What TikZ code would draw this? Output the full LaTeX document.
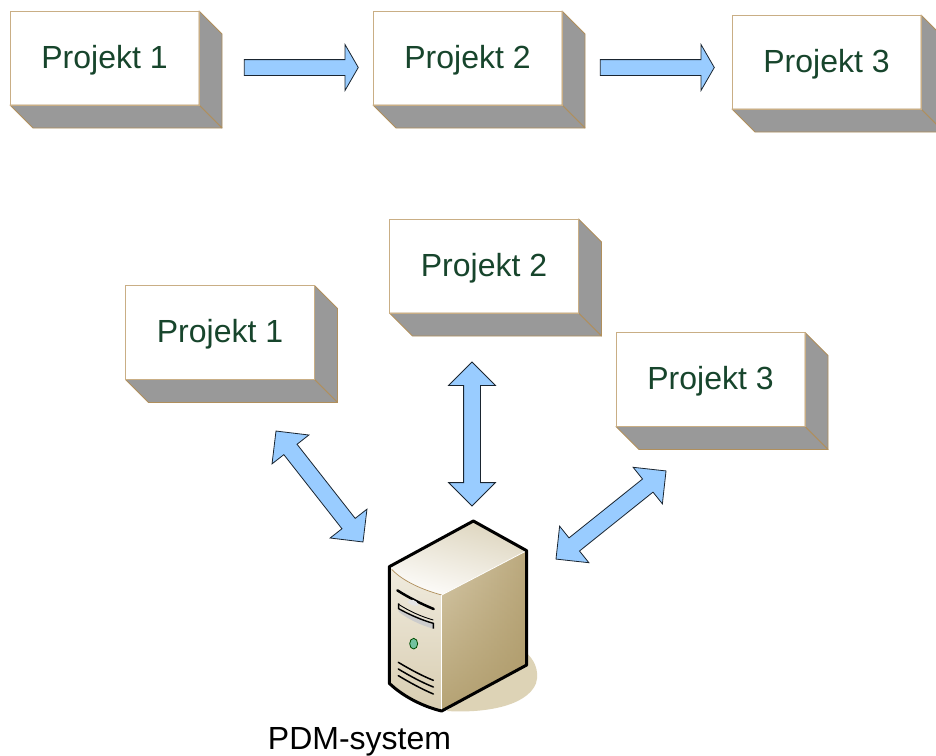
\documentclass[tikz,border=0pt]{standalone}
\usepackage{fontspec}
\setmainfont{Liberation Sans}
\usetikzlibrary{shapes.arrows,calc,fadings}
\definecolor{boxedge}{HTML}{C9AE85}
\definecolor{sideedge}{HTML}{B08F5C}
\definecolor{sidegray}{HTML}{999999}
\definecolor{projtext}{HTML}{17452C}
\definecolor{arrowblue}{HTML}{99CCFF}
\definecolor{arrowedge}{HTML}{1A2530}
\definecolor{shadowtan}{HTML}{DDD3B6}
\definecolor{topback}{HTML}{DDD5BE}
\definecolor{topfront}{HTML}{FDFCFA}
\definecolor{rightL}{HTML}{D6C9A9}
\definecolor{rightM}{HTML}{EFEADF}
\definecolor{rightR}{HTML}{BBA97E}
\definecolor{rightDark}{HTML}{A8935F}
\definecolor{frontT}{HTML}{F0EBDE}
\definecolor{frontB}{HTML}{D8CDB1}
\definecolor{ledgreen}{HTML}{72C2A0}
\definecolor{curveedge}{HTML}{B08F5C}
\tikzfading[name=fadeup, bottom color=transparent!0, middle color=transparent!85, top color=transparent!100]
\tikzset{
  projbox/.style={draw=boxedge, fill=white, line width=1pt, minimum width=189pt, minimum height=94pt,
    inner sep=0pt, outer sep=0pt, text=projtext, text height=24pt, text depth=4pt, font=\fontsize{32}{36}\selectfont},
  sideface/.style={fill=sidegray, draw=sideedge, line width=.8pt, line join=round},
  rarrow/.style={single arrow, draw=arrowedge, fill=arrowblue, line width=.8pt, inner xsep=0pt, inner ysep=7.5pt, outer sep=0pt,
    minimum width=45pt, minimum height=114pt, single arrow head extend=15pt, single arrow tip angle=120,
    anchor=center},
  darrow/.style={double arrow, draw=arrowedge, fill=arrowblue, line width=.8pt, inner xsep=0pt, inner ysep=8pt, outer sep=0pt,
    minimum width=46pt, double arrow head extend=15pt, double arrow tip angle=90, anchor=center},
  srvline/.style={draw=black, line width=1.5pt, line cap=round},
}
\newcommand{\projnode}[4]{%
  \node[projbox] (#1) at (#2,#3) {#4};
  \path[sideface] (#1.north east) -- ++(23,23) -- ++(0,94) -- (#1.south east) -- cycle;
  \path[sideface] (#1.south west) -- ++(23,23) -- ++(189,0) -- (#1.south east) -- cycle;
  \draw[boxedge, line width=1pt] (#1.south west) rectangle (#1.north east);
}
\begin{document}
\begin{tikzpicture}[x=1pt,y=-1pt]
\useasboundingbox (0,0) rectangle (936,755);
\fill[white] (0,0) rectangle (936,755);

\projnode{a1}{104.5}{58}{Projekt 1}
\projnode{a2}{467.5}{58}{Projekt 2}
\projnode{a3}{826.5}{62}{Projekt 3}
\projnode{b1}{220}{332.5}{Projekt 1}
\projnode{b2}{484}{266}{Projekt 2}
\projnode{b3}{710.5}{379.5}{Projekt 3}

\node[rarrow] (r1) at (299,67.5) {};
\node[rarrow] (r2) at (655,67.5) {};
\node[darrow, minimum height=144pt, rotate=90] (d2) at (472,434) {};
\node[darrow, minimum height=141pt, rotate=-51.9] (d1) at (319.5,486.5) {};
\node[darrow, minimum height=141pt, rotate=38.7] (d3) at (611,515) {};

% server, drawn in the coordinates of a 3x enlargement
\begin{scope}[shift={(370,510)},xscale=1/3,yscale=1/3]
  \fill[shadowtan] (230,603) .. controls (340,610) and (470,590) .. (498,520)
     .. controls (510,480) and (490,445) .. (465,425) -- cycle;
  % top face
  \shade[top color=topback,bottom color=topfront,shading angle=-15]
     (58,170) -- (310,33) -- (470,122) -- (215,255) .. controls (160,240) and (100,215) .. (58,170) -- cycle;
  % front face
  \shade[top color=frontT,bottom color=frontB]
     (58,170) .. controls (100,215) and (160,240) .. (215,255) -- (215,603) .. controls (160,590) and (100,560) .. (58,520) -- cycle;
  % right face
  \shade[left color=rightL,middle color=rightM,right color=rightR]
     (215,255) -- (470,122) -- (470,465) -- (215,603) -- cycle;
  \fill[rightDark,opacity=.7,path fading=fadeup]
     (215,255) -- (470,122) -- (470,465) -- (215,603) -- cycle;
  \draw[white,line width=.8pt] (215,255) -- (470,122);
  \draw[curveedge,line width=.7pt] (65,178) .. controls (100,215) and (160,240) .. (215,255);
  \draw[white,line width=.5pt] (215,255) -- (215,600);
  % drive bay
  \draw[black,line width=2.5pt,line cap=round] (82,241) .. controls (115,262) and (150,280) .. (191,297);
  \fill[white!90!black] (112,276) .. controls (120,264) and (140,268) .. (146,286) .. controls (135,290) and (120,284) .. (112,276) -- cycle;
  \fill[white!80!black] (86,296) -- (190,340) -- (190,356) .. controls (150,345) and (110,325) .. (86,305) -- cycle;
  \draw[black,line width=1.4pt] (86,280) -- (86,296) .. controls (120,315) and (155,330) .. (190,340) -- (190,356);
  \draw[black,line width=.9pt] (86,283) .. controls (120,305) and (155,320) .. (190,330);
  % led
  \draw[black!70!green,fill=ledgreen,line width=.8pt] (131,401) ellipse [x radius=12,y radius=16];
  % vents
  \draw[srvline] (85,457) .. controls (120,478) and (155,497) .. (190,511);
  \draw[srvline] (85,477) .. controls (120,498) and (155,517) .. (190,531);
  \draw[srvline] (85,497) .. controls (120,518) and (155,537) .. (190,552);
  % outline
  \draw[black,line width=3pt,line join=round]
     (58,170) -- (310,33) -- (470,122) -- (470,465) -- (215,603)
     .. controls (160,590) and (100,560) .. (58,520) -- cycle;
\end{scope}
\node[anchor=center,font=\fontsize{32}{36}\selectfont,text=black] (pdm) at (359.5,742) {PDM-system};
\end{tikzpicture}
\end{document}
